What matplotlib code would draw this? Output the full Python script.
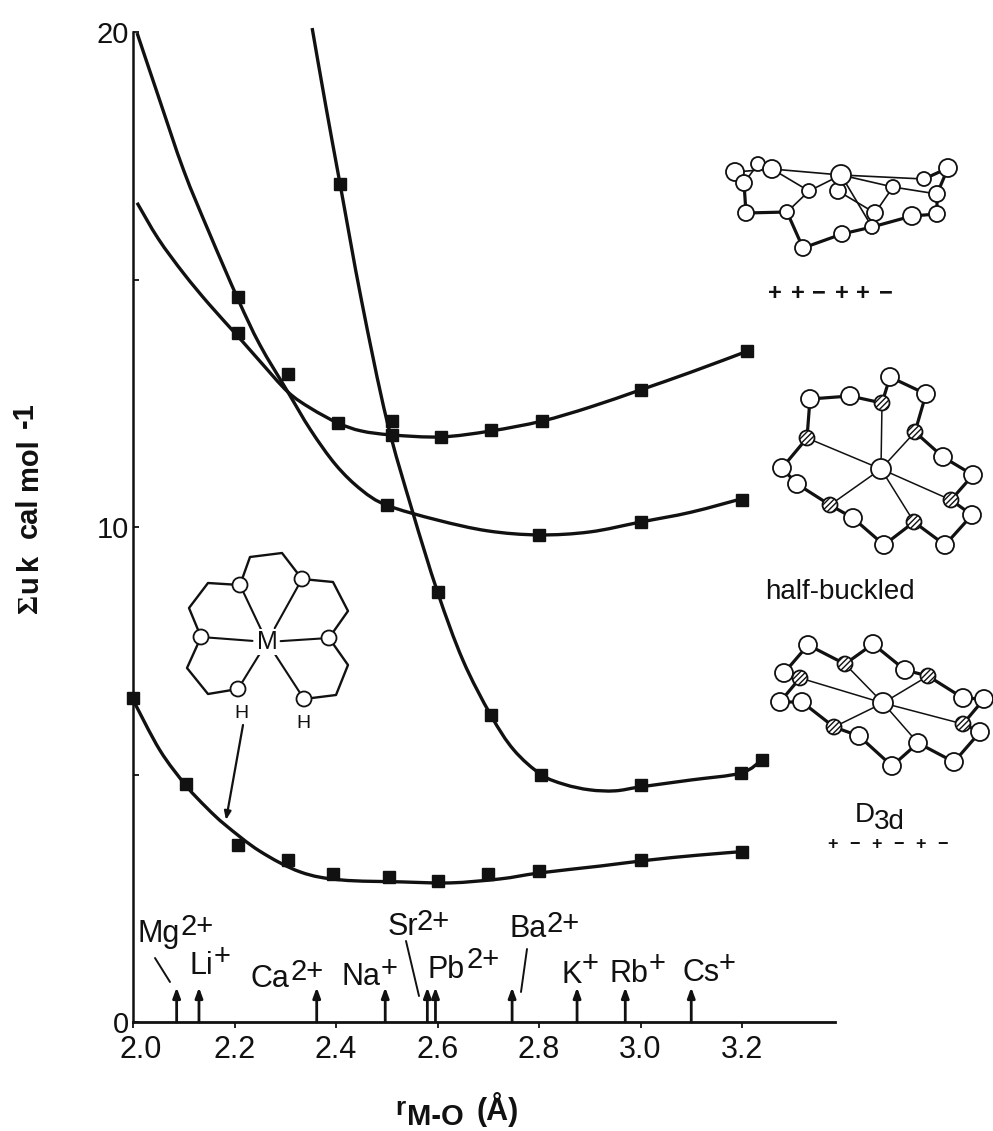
import matplotlib
matplotlib.use("Agg")
import matplotlib.pyplot as plt
from matplotlib.patches import Circle, PathPatch
from matplotlib.path import Path
from matplotlib.transforms import ScaledTranslation

plt.rcParams['font.family'] = ['Liberation Sans', 'DejaVu Sans']

INK = "#111111"

# curves
steep_x = [2.353, 2.38, 2.408, 2.45, 2.5, 2.55, 2.6, 2.65, 2.705, 2.75, 2.804, 2.85, 2.9, 2.95, 3.0, 3.1, 3.198, 3.24]
steep_y = [20.08, 18.5, 16.93, 14.59, 12.16, 10.34, 8.69, 7.31, 6.2, 5.5, 5.0, 4.8, 4.69, 4.67, 4.75, 4.89, 5.03, 5.3]
upper_x = [2.008, 2.05, 2.1, 2.15, 2.207, 2.25, 2.305, 2.35, 2.404, 2.45, 2.51, 2.607, 2.705, 2.806, 2.9, 3.0, 3.1, 3.21]
upper_y = [16.55, 15.82, 15.12, 14.5, 13.85, 13.35, 12.73, 12.4, 12.1, 11.94, 11.86, 11.82, 11.94, 12.14, 12.42, 12.77, 13.13, 13.55]
middle_x = [2.008, 2.05, 2.1, 2.15, 2.207, 2.25, 2.305, 2.35, 2.4, 2.45, 2.5, 2.6, 2.7, 2.8, 2.9, 3.0, 3.1, 3.21]
middle_y = [19.98, 18.7, 17.2, 15.95, 14.6, 13.68, 12.73, 11.96, 11.25, 10.75, 10.44, 10.14, 9.92, 9.84, 9.9, 10.1, 10.3, 10.6]
lower_x = [2.0, 2.053, 2.105, 2.145, 2.182, 2.25, 2.33, 2.41, 2.53, 2.625, 2.723, 2.8, 2.92, 3.015, 3.113, 3.21]
lower_y = [6.51, 5.49, 4.77, 4.33, 3.98, 3.45, 3.03, 2.87, 2.83, 2.81, 2.89, 3.01, 3.15, 3.27, 3.37, 3.45]

# square markers
steep_mx = [2.408, 2.51, 2.6, 2.705, 2.804, 3.0, 3.198, 3.24]
steep_my = [16.93, 12.15, 8.69, 6.2, 5.0, 4.79, 5.03, 5.3]
upper_mx = [2.207, 2.305, 2.404, 2.51, 2.607, 2.705, 2.806, 3.0, 3.21]
upper_my = [13.92, 13.1, 12.1, 11.86, 11.82, 11.96, 12.14, 12.77, 13.55]
middle_mx = [2.207, 2.5, 2.8, 3.0, 3.2]
middle_my = [14.65, 10.44, 9.84, 10.1, 10.55]
lower_mx = [2.0, 2.105, 2.207, 2.305, 2.395, 2.505, 2.6, 2.7, 2.8, 3.0, 3.2]
lower_my = [6.55, 4.8, 3.58, 3.28, 2.99, 2.93, 2.85, 2.99, 3.05, 3.27, 3.44]

# ion radius arrows
ion_x = [2.086, 2.13, 2.362, 2.497, 2.58, 2.596, 2.747, 2.875, 2.97, 3.1]
arrow_top = 0.7

# ion labels: name, charge, left pixel of name, left pixel of charge, baseline pixel, charge baseline
ion_labels = [
    ("Mg", "2+", 138, 181, 942, 935),
    ("Li", "+", 190, 214, 974, 965),
    ("Ca", "2+", 250, 290, 987, 980),
    ("Na", "+", 342, 381, 985, 977),
    ("Sr", "2+", 388, 417, 935, 930),
    ("Pb", "2+", 428, 466, 978, 968),
    ("Ba", "2+", 510, 547, 937, 932),
    ("K", "+", 562, 582, 983, 972),
    ("Rb", "+", 610, 649, 982, 972),
    ("Cs", "+", 682, 719, 981, 972),
]
leaders = [((155, 958), (170, 982)), ((406, 941), (419, 996)), ((527, 949), (521, 992))]

# molecule sketches in picture pixels
mol1_atoms = [(735, 172, 9), (758, 164, 7), (772, 169, 9), (744, 183, 8), (746, 213, 8), (787, 212, 7),
              (809, 191, 7), (838, 191, 8), (841, 175, 10), (893, 187, 7), (924, 179, 7), (948, 168, 9),
              (937, 194, 8), (937, 214, 8), (912, 216, 9), (875, 213, 8), (872, 227, 7), (842, 234, 8), (803, 248, 8)]
mol1_ring = [(735, 172), (744, 183), (746, 213), (787, 212), (803, 248), (842, 234), (872, 227), (912, 216),
             (937, 214), (937, 194), (948, 168), (924, 179)]
mol1_thin = [((772, 169), (841, 175)), ((841, 175), (924, 179)), ((841, 175), (872, 227)), ((841, 175), (893, 187)),
             ((893, 187), (937, 194)), ((772, 169), (809, 191)), ((809, 191), (787, 212)), ((809, 191), (841, 175)),
             ((838, 191), (875, 213)), ((875, 213), (893, 187)), ((735, 172), (772, 169)), ((744, 183), (758, 164))]

mol2_open = [(850, 396), (810, 399), (782, 468), (797, 484), (853, 518), (884, 545), (945, 545), (972, 515),
             (973, 475), (943, 457), (926, 394), (890, 377)]
mol2_hatch = [(882, 403), (915, 432), (807, 438), (830, 505), (914, 522), (951, 500)]
mol2_ring = [(850, 396), (810, 399), (807, 438), (782, 468), (797, 484), (830, 505), (853, 518), (884, 545), (914, 522),
             (945, 545), (972, 515), (951, 500), (973, 475), (943, 457), (915, 432), (926, 394), (890, 377), (882, 403), (850, 396)]
mol2_center = (881, 469)

mol3_open = [(808, 645), (784, 673), (780, 702), (802, 702), (859, 736), (892, 766), (918, 743), (954, 762), (980, 732),
             (984, 699), (963, 698), (905, 670), (873, 644)]
mol3_hatch = [(845, 664), (800, 678), (834, 727), (963, 724), (928, 676)]
mol3_ring = [(845, 664), (808, 645), (784, 673), (800, 678), (780, 702), (802, 702), (834, 727), (859, 736), (892, 766),
             (918, 743), (954, 762), (980, 732), (963, 724), (984, 699), (963, 698), (928, 676), (905, 670), (873, 644), (845, 664)]
mol3_spokes = [(845, 664), (800, 678), (834, 727), (918, 743), (963, 724), (928, 676)]
mol3_center = (883, 703)

# crown ether inset
crown_o = [(240, 585), (302, 579), (201, 637), (329, 638), (238, 689), (304, 699)]
crown_arcs = [
    [(240, 585), (250, 557), (282, 553), (302, 579)],
    [(302, 579), (333, 582), (348, 611), (329, 638)],
    [(329, 638), (348, 665), (336, 695), (304, 699)],
    [(238, 689), (208, 694), (187, 668), (201, 637)],
    [(201, 637), (189, 608), (208, 583), (240, 585)],
]
crown_m = (267, 642)

plus_top = [(775, "+"), (798, "+"), (819, "\u2212"), (842, "+"), (863, "+"), (886, "\u2212")]
plus_bottom = [(833, "+"), (855, "\u2212"), (877, "+"), (899, "\u2212"), (921, "+"), (943, "\u2212")]

# y title pieces: text, pixel along the axis, baseline pixel
ytitle_parts = [("u", 593, 37), ("k", 570, 37), ("cal", 538, 37), ("mol", 490, 37), ("-1", 428, 33)]

W, H = 993, 1131
fig = plt.figure(figsize=(W / 100, H / 100), dpi=100)

# main axes, spines sit where the picture has them
x0, x1 = 133, 835
y0, y1 = 1022, 32
ax = fig.add_axes([x0 / W, 1 - y0 / H, (x1 - x0) / W, (y0 - y1) / H])
ax.set_xlim(2.0, 2.0 + (x1 - x0) / 507.5)
ax.set_ylim(0, 20)
ax.spines["top"].set_visible(False)
ax.spines["right"].set_visible(False)
ax.spines["left"].set_linewidth(1.8)
ax.spines["bottom"].set_linewidth(2.0)
ax.spines["left"].set_color(INK)
ax.spines["bottom"].set_color(INK)
ax.set_xticks([2.0, 2.2, 2.4, 2.6, 2.8, 3.0, 3.2])
ax.set_xticklabels(["2.0", "2.2", "2.4", "2.6", "2.8", "3.0", "3.2"])
ax.set_yticks([0, 5, 10, 15, 20])
ax.set_yticklabels(["0", "", "10", "", "20"])
ax.tick_params(axis="x", direction="out", length=4, width=1.3, labelsize=22, pad=5, colors=INK)
ax.tick_params(axis="y", direction="in", length=4, width=1.3, labelsize=21, pad=3, colors=INK)

# the 2.0 label sits right of its tick in the original
first = ax.get_xticklabels()[0]
first.set_transform(first.get_transform() + ScaledTranslation(8 / 100, 0, fig.dpi_scale_trans))


def smooth_curve(xs, ys):
    # bezier path through the read points, so the line is not faceted
    pts = list(zip(xs, ys))
    verts = [pts[0]]
    codes = [Path.MOVETO]
    for i in range(len(pts) - 1):
        p0 = pts[max(i - 1, 0)]
        p1 = pts[i]
        p2 = pts[i + 1]
        p3 = pts[min(i + 2, len(pts) - 1)]
        c1 = (p1[0] + (p2[0] - p0[0]) / 6, p1[1] + (p2[1] - p0[1]) / 6)
        c2 = (p2[0] - (p3[0] - p1[0]) / 6, p2[1] - (p3[1] - p1[1]) / 6)
        verts += [c1, c2, p2]
        codes += [Path.CURVE4, Path.CURVE4, Path.CURVE4]
    return Path(verts, codes)


for xs, ys in [(steep_x, steep_y), (upper_x, upper_y), (middle_x, middle_y), (lower_x, lower_y)]:
    ax.add_patch(PathPatch(smooth_curve(xs, ys), fill=False, edgecolor=INK, lw=2.4, clip_on=False))
for xs, ys in [(steep_mx, steep_my), (upper_mx, upper_my), (middle_mx, middle_my), (lower_mx, lower_my)]:
    ax.plot(xs, ys, ls="none", marker="s", ms=8, color=INK, clip_on=False)

for xv in ion_x:
    ax.annotate("", xy=(xv, arrow_top), xytext=(xv, 0),
                arrowprops=dict(arrowstyle="-|>,head_width=0.22,head_length=0.6", color=INK, lw=2.0,
                                shrinkA=0, shrinkB=0))

# overlay in picture pixels for everything that is not data
ov = fig.add_axes([0, 0, 1, 1], facecolor="none")
ov.set_xlim(0, W)
ov.set_ylim(H, 0)
ov.axis("off")


def poly(pts, lw):
    ov.plot([p[0] for p in pts], [p[1] for p in pts], color=INK, lw=lw, solid_capstyle="round", zorder=2)


def atom(x, y, r, hatched=False):
    ov.add_patch(Circle((x, y), r, facecolor="white", edgecolor=INK, lw=1.3, zorder=3,
                        hatch="//////" if hatched else None))


# ion labels and leader lines
for name, charge, xa, xb, ya, yb in ion_labels:
    ov.text(xa, ya, name, fontsize=22, color=INK, ha="left", va="baseline")
    ov.text(xb, yb, charge, fontsize=21, color=INK, ha="left", va="baseline")
for a, b in leaders:
    poly([a, b], 1.4)

# molecule 1
poly(mol1_ring, 2.3)
for a, b in mol1_thin:
    poly([a, b], 1.2)
for x, y, r in mol1_atoms:
    atom(x, y, r)
for xp, s in plus_top:
    ov.text(xp, 293, s, fontsize=17, fontweight="bold", color=INK, ha="center", va="center")

# molecule 2
poly(mol2_ring, 2.3)
for p in mol2_hatch:
    poly([mol2_center, p], 1.1)
for x, y in mol2_open:
    atom(x, y, 9)
for x, y in mol2_hatch:
    atom(x, y, 7.5, True)
atom(mol2_center[0], mol2_center[1], 10)
ov.text(840, 592, "half-buckled", fontsize=20, color=INK, ha="center", va="center")

# molecule 3
poly(mol3_ring, 2.3)
for p in mol3_spokes:
    poly([mol3_center, p], 1.1)
for x, y in mol3_open:
    atom(x, y, 9)
for x, y in mol3_hatch:
    atom(x, y, 7.5, True)
atom(mol3_center[0], mol3_center[1], 10)
ov.text(865, 822, "D", fontsize=20, color=INK, ha="center", va="baseline")
ov.text(889, 829, "3d", fontsize=20, color=INK, ha="center", va="baseline")
for xp, s in plus_bottom:
    ov.text(xp, 844, s, fontsize=13, fontweight="bold", color=INK, ha="center", va="center")

# crown inset
for arc in crown_arcs:
    poly(arc, 1.7)
for p in crown_o:
    dx, dy = p[0] - crown_m[0], p[1] - crown_m[1]
    poly([(crown_m[0] + dx * 0.22, crown_m[1] + dy * 0.22), p], 1.5)
for x, y in crown_o:
    atom(x, y, 7.5)
ov.text(crown_m[0], crown_m[1], "M", fontsize=18, color=INK, ha="center", va="center", zorder=4,
        bbox=dict(facecolor="white", edgecolor="none", pad=0.5))
ov.text(241, 713, "H", fontsize=14, color=INK, ha="center", va="center")
ov.text(303, 723, "H", fontsize=14, color=INK, ha="center", va="center")
ov.annotate("", xy=(226, 820), xytext=(243, 725),
            arrowprops=dict(arrowstyle="-|>,head_width=0.2,head_length=0.5", color=INK, lw=1.6, shrinkA=0, shrinkB=0))

# axis titles, pieced together like the original
ov.text(37, 613, "\u03a3", fontsize=21, fontweight="bold", color=INK, rotation=90, rotation_mode="anchor",
        ha="left", va="baseline", family=["Liberation Serif", "DejaVu Serif"])
for s, yp, xp in ytitle_parts:
    ov.text(xp, yp, s, fontsize=21, fontweight="bold", color=INK, rotation=90, rotation_mode="anchor",
            ha="left", va="baseline")
ov.text(395, 1115, "r", fontsize=19, fontweight="bold", color=INK, ha="left", va="baseline")
ov.text(407, 1125, "M-O", fontsize=21, fontweight="bold", color=INK, ha="left", va="baseline")
ov.text(477, 1120, "(\u00c5)", fontsize=22, fontweight="bold", color=INK, ha="left", va="baseline")

fig.savefig("out.png", dpi=100)
